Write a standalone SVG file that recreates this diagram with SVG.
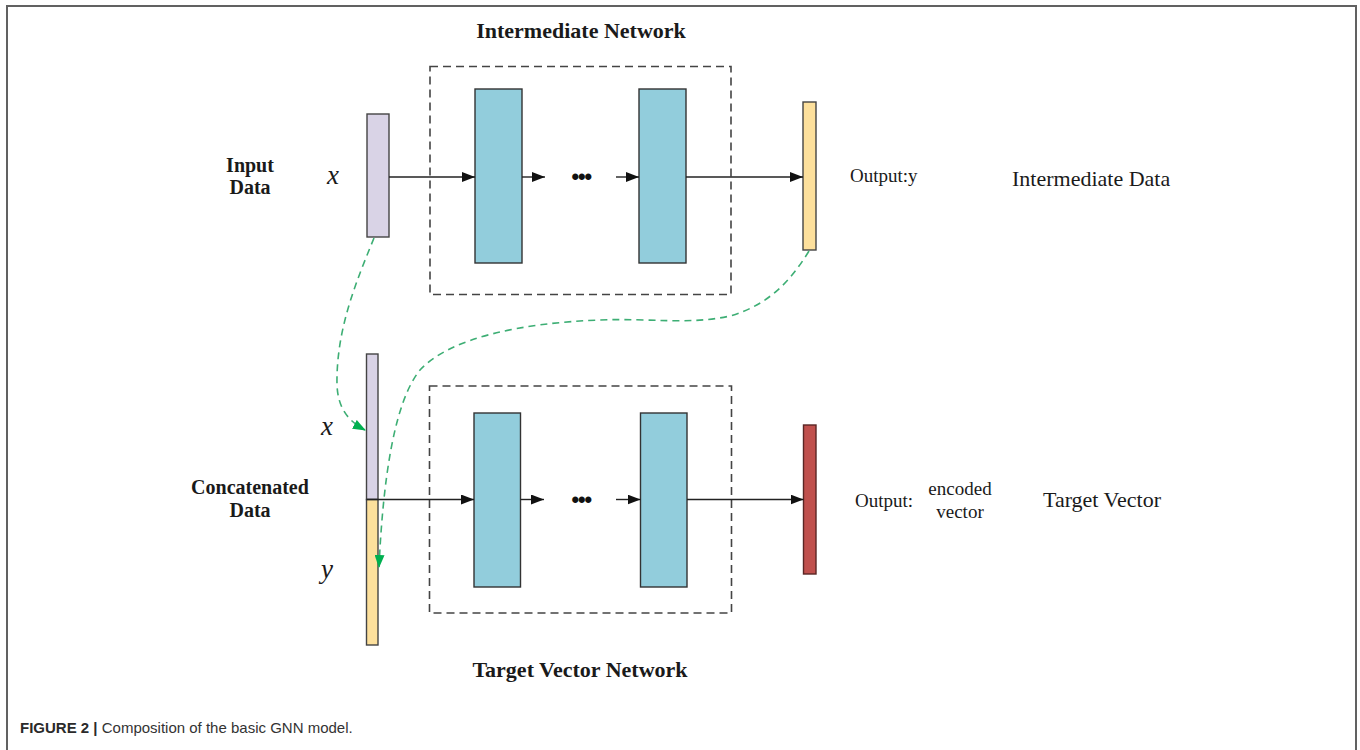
<svg xmlns="http://www.w3.org/2000/svg" width="1360" height="750" viewBox="0 0 1360 750">
  <defs>
    <style>
      .serif { font-family: "Liberation Serif", "Times New Roman", serif; fill: #1a1a1a; }
      .bold { font-weight: bold; }
      .lbl { font-size: 19px; }
      .big { font-size: 22px; }
      .side { font-size: 20px; font-weight: bold; }
      .var { font-size: 27px; font-style: italic; }
      .frame { fill: none; stroke: #616161; stroke-width: 2; }
      .group-box { fill: none; stroke: #444; stroke-width: 1.6; stroke-dasharray: 8 5; }
      .layer { fill: #92CDDC; stroke: #333; stroke-width: 1.4; }
      .vec-x { fill: #D9D3E6; stroke: #444; stroke-width: 1.4; }
      .vec-y { fill: #FDE09C; stroke: #444; stroke-width: 1.4; }
      .vec-out { fill: #C0504D; stroke: #5a2624; stroke-width: 1.4; }
      .flow { fill: none; stroke: #222; stroke-width: 1.4; }
      .copy { fill: none; stroke: #3DAE74; stroke-width: 1.6; stroke-dasharray: 7 5; }
      .dots { font-family: "Liberation Sans", Arial, sans-serif; font-size: 23px; fill: #111; letter-spacing: -1.5px; }
      .caption { font-family: "Liberation Sans", Arial, sans-serif; font-size: 15px; fill: #333; }
    </style>
    <marker id="arrow" viewBox="0 0 13 10" refX="13" refY="5" markerWidth="13" markerHeight="10" markerUnits="userSpaceOnUse" orient="auto">
      <path d="M0,0 L13,5 L0,10 z" fill="#111"/>
    </marker>
    <marker id="arrow-green" viewBox="0 0 13 10" refX="12" refY="5" markerWidth="13" markerHeight="10" markerUnits="userSpaceOnUse" orient="auto">
      <path d="M0,0 L13,5 L0,10 z" fill="#00B050"/>
    </marker>
  </defs>

  <rect width="1360" height="750" fill="#fff"/>

  <!-- page frame (open at the bottom) -->
  <path class="frame" d="M7,760 L7,6 L1356,6 L1356,760"/>

  <!-- upper network -->
  <g id="intermediate-network">
    <text class="serif bold big" x="581" y="38" text-anchor="middle">Intermediate Network</text>
    <rect class="group-box" x="430" y="66.5" width="301" height="228"/>
  </g>
  <g id="input-data">
    <text class="serif side" x="250" y="172" text-anchor="middle">Input</text>
    <text class="serif side" x="250" y="194" text-anchor="middle">Data</text>
    <text class="serif var" x="327" y="184">x</text>
    <rect class="vec-x" x="367" y="114" width="22" height="123"/>
  </g>
  <g id="hidden-1-top">
    <rect class="layer" x="475" y="89" width="47" height="174"/>
  </g>
  <g id="ellipsis-top">
    <text class="dots" x="581" y="185" text-anchor="middle">•••</text>
  </g>
  <g id="hidden-n-top">
    <rect class="layer" x="639" y="89" width="47" height="174"/>
  </g>
  <g id="output-y">
    <rect class="vec-y" x="803" y="102" width="13" height="148"/>
    <text class="serif lbl" x="850" y="182">Output:y</text>
    <text class="serif big" x="1012" y="186">Intermediate Data</text>
  </g>

  <!-- lower network -->
  <g id="target-vector-network">
    <rect class="group-box" x="429.5" y="386" width="302" height="227"/>
    <text class="serif bold big" x="580" y="677" text-anchor="middle">Target Vector Network</text>
  </g>
  <g id="concatenated-data">
    <text class="serif side" x="250" y="494" text-anchor="middle">Concatenated</text>
    <text class="serif side" x="250" y="517" text-anchor="middle">Data</text>
    <text class="serif var" x="321" y="435">x</text>
    <text class="serif var" x="321" y="578">y</text>
    <rect class="vec-x" x="366.5" y="354" width="11.5" height="145.5"/>
    <rect class="vec-y" x="366.5" y="499.5" width="11.5" height="145.5"/>
  </g>
  <g id="hidden-1-bottom">
    <rect class="layer" x="474" y="413" width="46.5" height="174"/>
  </g>
  <g id="ellipsis-bottom">
    <text class="dots" x="581" y="508" text-anchor="middle">•••</text>
  </g>
  <g id="hidden-n-bottom">
    <rect class="layer" x="640.5" y="413" width="46.5" height="174"/>
  </g>
  <g id="encoded-vector">
    <rect class="vec-out" x="803.5" y="425" width="12.5" height="149"/>
    <text class="serif lbl" x="855" y="507">Output:</text>
    <text class="serif lbl" x="960" y="495" text-anchor="middle">encoded</text>
    <text class="serif lbl" x="960" y="518" text-anchor="middle">vector</text>
    <text class="serif big" x="1043" y="507">Target Vector</text>
  </g>

  <!-- connectors -->
  <g id="connectors">
    <path class="flow" d="M389,177 L475,177" marker-end="url(#arrow)"/>
    <path class="flow" d="M522,177 L545,177" marker-end="url(#arrow)"/>
    <path class="flow" d="M616,177 L639,177" marker-end="url(#arrow)"/>
    <path class="flow" d="M686,177 L803,177" marker-end="url(#arrow)"/>

    <path class="flow" d="M366.5,499.5 L474,499.5" marker-end="url(#arrow)"/>
    <path class="flow" d="M520.5,499.5 L544,499.5" marker-end="url(#arrow)"/>
    <path class="flow" d="M616,499.5 L640.5,499.5" marker-end="url(#arrow)"/>
    <path class="flow" d="M687,499.5 L803.5,499.5" marker-end="url(#arrow)"/>

    <!-- x copied into the upper half of the concatenated vector -->
    <path class="copy" d="M374,238 C356,282 336,330 337,385 C338,410 350,422 365,430" marker-end="url(#arrow-green)"/>
    <!-- y copied into the lower half of the concatenated vector -->
    <path class="copy" d="M809,251 C790,282 768,305 730,316 C690,325 650,318 600,320 C520,323 450,338 420,370 C394,402 383,480 379,567" marker-end="url(#arrow-green)"/>
  </g>

  <text class="caption" x="20" y="733"><tspan font-weight="bold" fill="#2a2a2a">FIGURE 2 |</tspan> Composition of the basic GNN model.</text>
</svg>
